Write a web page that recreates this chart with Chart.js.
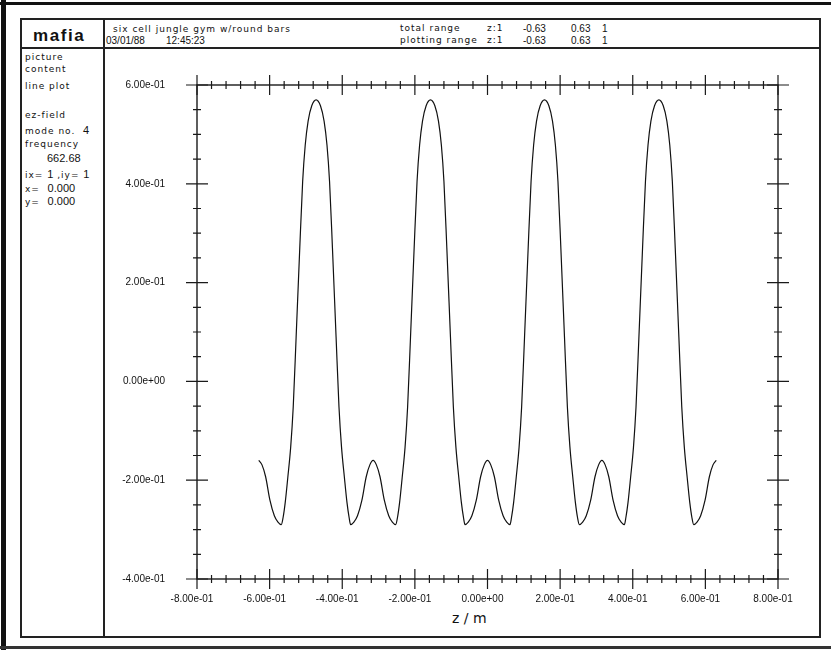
<!DOCTYPE html>
<html>
<head>
<meta charset="utf-8">
<title>mafia - ez-field line plot</title>
<script src="https://cdn.jsdelivr.net/npm/chart.js@4.4.1/dist/chart.umd.min.js"></script>
<style>
  body { margin: 0; background: #fff; overflow: hidden; }
  #page { position: relative; width: 831px; height: 653px; }
  .bar { position: absolute; background: #111; }
  .ln { position: absolute; background: #222; }
  .t { position: absolute; white-space: pre; color: #111; }
  .s { font-family: "DejaVu Sans", sans-serif; font-size: 9px; line-height: 9px; letter-spacing: 1px; }
  .n { font-family: "Liberation Sans", Arial, sans-serif; font-size: 10px; line-height: 10px; }
  .b { font-family: "Liberation Sans", Arial, sans-serif; font-size: 11px; line-height: 11px; letter-spacing: 0; }
  #logo { font-family: "Liberation Sans", Arial, sans-serif; font-weight: 900; font-size: 17px; line-height: 17px; letter-spacing: 1.6px; }
  #wrap { position: absolute; left: 0; top: 0; width: 831px; height: 653px; }
</style>
</head>
<body>
<div id="page">
  <!-- outer thick frame -->
  <div class="bar" style="left:1px;top:0;width:5px;height:650px;"></div>
  <div class="bar" style="left:0;top:2px;width:831px;height:3px;"></div>
  <div class="bar" style="left:0;top:646px;width:831px;height:3px;background:#333;"></div>
  <!-- inner box -->
  <div class="ln" style="left:20px;top:18px;width:801px;height:2px;"></div>
  <div class="ln" style="left:20px;top:636px;width:801px;height:2px;"></div>
  <div class="ln" style="left:20px;top:18px;width:2px;height:620px;"></div>
  <div class="ln" style="left:819px;top:18px;width:2px;height:620px;"></div>
  <div class="ln" style="left:20px;top:47px;width:801px;height:2px;"></div>
  <div class="ln" style="left:103px;top:18px;width:2px;height:620px;"></div>

  <!-- header -->
  <div class="t" id="logo" style="left:33px;top:27px;">mafia</div>
  <div class="t s" style="left:113px;top:25px;">six cell jungle gym w/round bars</div>
  <div class="t n" style="left:106px;top:36px;">03/01/88</div>
  <div class="t n" style="left:166px;top:36px;">12:45:23</div>
  <div class="t s" style="left:400px;top:24px;">total range</div>
  <div class="t s" style="left:400px;top:36px;">plotting range</div>
  <div class="t s" style="left:487px;top:24px;">z:1</div>
  <div class="t s" style="left:487px;top:36px;">z:1</div>
  <div class="t n" style="left:523px;top:24px;">-0.63</div>
  <div class="t n" style="left:523px;top:36px;">-0.63</div>
  <div class="t n" style="left:571px;top:24px;">0.63</div>
  <div class="t n" style="left:571px;top:36px;">0.63</div>
  <div class="t n" style="left:602px;top:24px;">1</div>
  <div class="t n" style="left:602px;top:36px;">1</div>

  <!-- left panel -->
  <div class="t s" style="left:25px;top:53px;">picture</div>
  <div class="t s" style="left:25px;top:65px;">content</div>
  <div class="t s" style="left:25px;top:82px;">line plot</div>
  <div class="t s" style="left:25px;top:111px;">ez-field</div>
  <div class="t s" style="left:25px;top:125px;">mode no.  <span class="b">4</span></div>
  <div class="t s" style="left:25px;top:140px;">frequency</div>
  <div class="t b" style="left:47px;top:153px;">662.68</div>
  <div class="t s" style="left:25px;top:169px;">ix= <span class="b">1</span> ,iy= <span class="b">1</span></div>
  <div class="t s" style="left:25px;top:183px;">x=  <span class="b">0.000</span></div>
  <div class="t s" style="left:25px;top:196px;">y=  <span class="b">0.000</span></div>

  <div class="t" style="left:452px;top:611px;font-family:'DejaVu Sans',sans-serif;font-size:14px;line-height:14px;">z / m</div>

  <div id="wrap"><canvas id="chart"></canvas></div>
</div>

<script>
// ez along the axis
const zValues = [
  -0.630, -0.621, -0.611, -0.599, -0.587, -0.577, -0.568,
  -0.563, -0.557, -0.550, -0.542, -0.535, -0.527, -0.517, -0.509, -0.502, -0.494, -0.484, -0.472,
  -0.460, -0.450, -0.442, -0.435, -0.427, -0.417, -0.409, -0.402, -0.394, -0.387, -0.381,
  -0.377, -0.368, -0.358, -0.346, -0.334, -0.324, -0.315,
  -0.306, -0.296, -0.284, -0.272, -0.262, -0.253,
  -0.248, -0.242, -0.235, -0.227, -0.220, -0.212, -0.202, -0.194, -0.187, -0.179, -0.169, -0.157,
  -0.145, -0.135, -0.127, -0.120, -0.112, -0.102, -0.094, -0.087, -0.079, -0.072, -0.066,
  -0.062, -0.053, -0.043, -0.031, -0.019, -0.009, 0.000,
  0.009, 0.019, 0.031, 0.043, 0.053, 0.062,
  0.066, 0.072, 0.079, 0.087, 0.094, 0.102, 0.112, 0.120, 0.127, 0.135, 0.145, 0.157,
  0.169, 0.179, 0.187, 0.194, 0.202, 0.212, 0.220, 0.227, 0.235, 0.242, 0.248,
  0.253, 0.262, 0.272, 0.284, 0.296, 0.306, 0.315,
  0.324, 0.334, 0.346, 0.358, 0.368, 0.377,
  0.381, 0.387, 0.394, 0.402, 0.409, 0.417, 0.427, 0.435, 0.442, 0.450, 0.460, 0.472,
  0.484, 0.494, 0.502, 0.509, 0.517, 0.527, 0.535, 0.542, 0.550, 0.557, 0.563,
  0.568, 0.577, 0.587, 0.599, 0.611, 0.621, 0.630
];
const ezValues = [
  -0.160, -0.169, -0.193, -0.241, -0.272, -0.285, -0.290,
  -0.276, -0.245, -0.195, -0.133, -0.052, 0.090, 0.270, 0.405, 0.478, 0.527, 0.558, 0.570,
  0.558, 0.527, 0.478, 0.405, 0.270, 0.090, -0.052, -0.133, -0.195, -0.245, -0.276,
  -0.290, -0.285, -0.272, -0.241, -0.193, -0.169, -0.160,
  -0.169, -0.193, -0.241, -0.272, -0.285, -0.290,
  -0.276, -0.245, -0.195, -0.133, -0.052, 0.090, 0.270, 0.405, 0.478, 0.527, 0.558, 0.570,
  0.558, 0.527, 0.478, 0.405, 0.270, 0.090, -0.052, -0.133, -0.195, -0.245, -0.276,
  -0.290, -0.285, -0.272, -0.241, -0.193, -0.169, -0.160,
  -0.169, -0.193, -0.241, -0.272, -0.285, -0.290,
  -0.276, -0.245, -0.195, -0.133, -0.052, 0.090, 0.270, 0.405, 0.478, 0.527, 0.558, 0.570,
  0.558, 0.527, 0.478, 0.405, 0.270, 0.090, -0.052, -0.133, -0.195, -0.245, -0.276,
  -0.290, -0.285, -0.272, -0.241, -0.193, -0.169, -0.160,
  -0.169, -0.193, -0.241, -0.272, -0.285, -0.290,
  -0.276, -0.245, -0.195, -0.133, -0.052, 0.090, 0.270, 0.405, 0.478, 0.527, 0.558, 0.570,
  0.558, 0.527, 0.478, 0.405, 0.270, 0.090, -0.052, -0.133, -0.195, -0.245, -0.276,
  -0.290, -0.285, -0.272, -0.241, -0.193, -0.169, -0.160
];

const xTickLabels = ['-8.00e-01', '-6.00e-01', '-4.00e-01', '-2.00e-01', '0.00e+00',
                     '2.00e-01', '4.00e-01', '6.00e-01', '8.00e-01'];
const yTickLabels = ['-4.00e-01', '-2.00e-01', '0.00e+00', '2.00e-01', '4.00e-01', '6.00e-01'];

// box round the plot with cross shaped ticks on all four sides
const crossTicks = {
    id: 'crossTicks',
    afterDraw(chart) {
        const ctx = chart.ctx;
        const a = chart.chartArea;
        const x = chart.scales.x;
        const y = chart.scales.y;
        ctx.save();
        ctx.strokeStyle = '#1a1a1a';
        ctx.lineWidth = 1.4;
        ctx.strokeRect(a.left, a.top, a.right - a.left, a.bottom - a.top);

        ctx.lineWidth = 1.2;
        ctx.beginPath();
        // x: majors every 0.2, minors every 0.04
        for (let i = 0; i <= 40; i++) {
            const px = x.getPixelForValue(x.min + i * 0.04);
            const len = (i % 5 === 0) ? 10 : 4;
            ctx.moveTo(px, a.bottom - len); ctx.lineTo(px, a.bottom + len);
            ctx.moveTo(px, a.top - len); ctx.lineTo(px, a.top + len);
        }
        // y: majors every 0.2, minors every 0.05
        for (let i = 0; i <= 20; i++) {
            const py = y.getPixelForValue(y.min + i * 0.05);
            const len = (i % 4 === 0) ? 11 : 4;
            ctx.moveTo(a.left - len, py); ctx.lineTo(a.left + len, py);
            ctx.moveTo(a.right - len, py); ctx.lineTo(a.right + len, py);
        }
        ctx.stroke();
        ctx.restore();
    }
};

document.addEventListener('DOMContentLoaded', function() {
    const points = zValues.map(function(z, i) { return { x: z, y: ezValues[i] }; });
    const ctx = document.getElementById('chart').getContext('2d');

    new Chart(ctx, {
        type: 'line',
        data: {
            datasets: [{
                label: 'ez-field',
                data: points,
                borderColor: '#111',
                borderWidth: 1.2,
                pointRadius: 0,
                fill: false,
                cubicInterpolationMode: 'monotone'
            }]
        },
        options: {
            responsive: true,
            maintainAspectRatio: false,
            animation: false,
            layout: {
                padding: { left: 0, right: 53, top: 85, bottom: 34 }
            },
            plugins: {
                legend: { display: false },
                tooltip: { enabled: false }
            },
            scales: {
                x: {
                    type: 'linear',
                    min: -0.8,
                    max: 0.8,
                    grid: { display: false, drawTicks: false },
                    border: { display: false },
                    afterFit: function(scale) { scale.height = 40; },
                    ticks: {
                        stepSize: 0.2,
                        padding: 14,
                        labelOffset: -5,
                        maxRotation: 0,
                        color: '#111',
                        font: { family: 'Liberation Sans', size: 10 },
                        callback: function(value, index) { return xTickLabels[index]; }
                    }
                },
                y: {
                    type: 'linear',
                    min: -0.4,
                    max: 0.6,
                    grid: { display: false, drawTicks: false },
                    border: { display: false },
                    afterFit: function(scale) { scale.width = 197; },
                    ticks: {
                        stepSize: 0.2,
                        padding: 32,
                        color: '#111',
                        font: { family: 'Liberation Sans', size: 10 },
                        callback: function(value, index) { return yTickLabels[index]; }
                    }
                }
            }
        },
        plugins: [crossTicks]
    });
});
</script>
</body>
</html>
